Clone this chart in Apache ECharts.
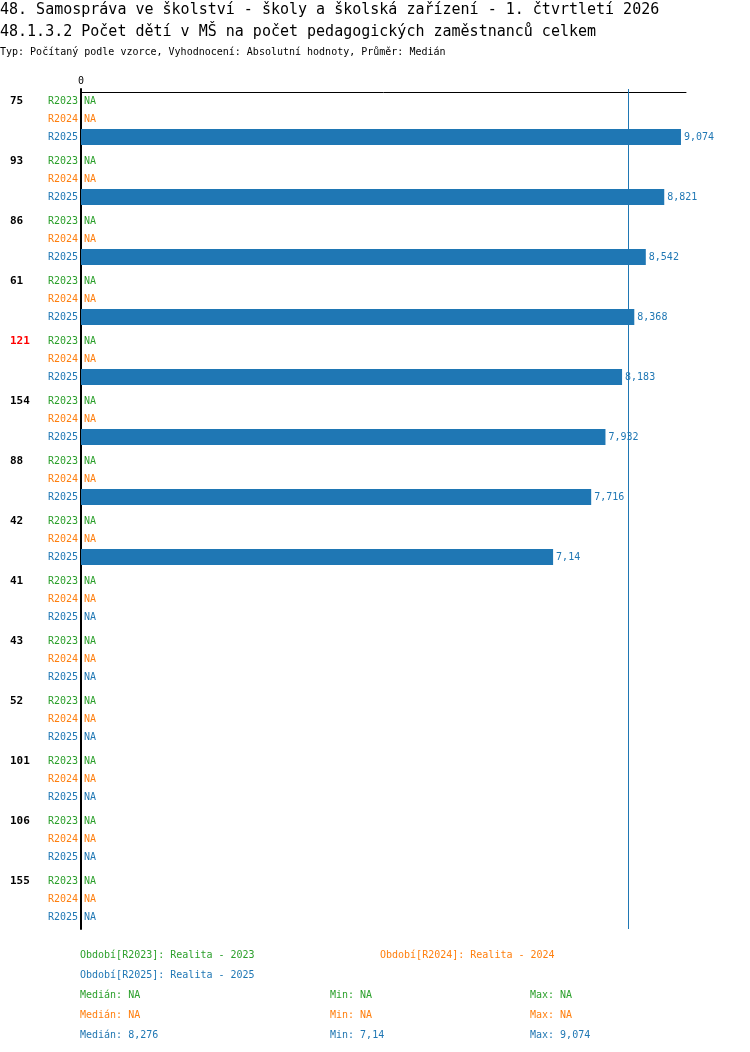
<!DOCTYPE html>
<html lang="cs">
<head>
    <meta charset="UTF-8">
    <title>48.1.3.2</title>
    <style>
        html, body { margin: 0; padding: 0; background: #fff; }
    </style>
</head>
<body>
<div id="container" style="width: 750px;height:1052px;"></div>

<script src="https://cdn.jsdelivr.net/npm/echarts@6/dist/echarts.min.js"></script>
<script type="text/javascript">

// kódy obcí (řádky grafu)
var groups = ['75', '93', '86', '61', '121', '154', '88', '42', '41', '43', '52', '101', '106', '155'];
// zvýrazněný kód
var highlight = '121';
// hodnoty jednotlivých období (null = NA)
var r2023 = [null, null, null, null, null, null, null, null, null, null, null, null, null, null];
var r2024 = [null, null, null, null, null, null, null, null, null, null, null, null, null, null];
var r2025 = [9.074, 8.821, 8.542, 8.368, 8.183, 7.932, 7.716, 7.14, null, null, null, null, null, null];
// souhrnné hodnoty období: medián, min, max
var stats2023 = [null, null, null];
var stats2024 = [null, null, null];
var stats2025 = [8.276, 7.14, 9.074];

var periods = ['R2023', 'R2024', 'R2025'];
var periodNames = ['Realita - 2023', 'Realita - 2024', 'Realita - 2025'];
var colors = ['#2ca02c', '#ff7f0e', '#1f77b4'];
var font = 'DejaVu Sans Mono';

function fmt(v) {
  if (v === null || v === undefined) return 'NA';
  return String(v).replace('.', ',');
}

function toData(arr) {
  return arr.map(function (v) {
    if (v === null) return { value: 0, label: { formatter: 'NA' } };
    return v;
  });
}

function makeSeries(arr, idx) {
  var s = {
    name: periods[idx],
    type: 'bar',
    yAxisIndex: 0,
    barWidth: 16,
    barGap: '12.5%',
    itemStyle: { color: colors[idx] },
    label: {
      show: true,
      position: 'right',
      distance: 3,
      color: colors[idx],
      fontFamily: font,
      fontSize: 10,
      formatter: function (p) { return fmt(p.value); }
    },
    data: toData(arr)
  };
  return s;
}

var series = [makeSeries(r2023, 0), makeSeries(r2024, 1), makeSeries(r2025, 2)];
// svislá čára mediánu R2025
series[2].markLine = {
  silent: true,
  symbol: 'none',
  label: { show: false },
  lineStyle: { color: '#1f77b4', width: 1, type: 'solid' },
  data: [{ xAxis: stats2025[0] }]
};

// texty legendy dole
var legendTexts = [];
function addText(x, y, txt, color) {
  legendTexts.push({
    type: 'text',
    left: x,
    top: y - 4,
    style: { text: txt, fill: color, font: '10px "' + font + '"' }
  });
}
addText(80, 954, 'Období[' + periods[0] + ']: ' + periodNames[0], colors[0]);
addText(380, 954, 'Období[' + periods[1] + ']: ' + periodNames[1], colors[1]);
addText(80, 974, 'Období[' + periods[2] + ']: ' + periodNames[2], colors[2]);
[stats2023, stats2024, stats2025].forEach(function (st, i) {
  var y = 994 + i * 20;
  addText(80, y, 'Medián: ' + fmt(st[0]), colors[i]);
  addText(330, y, 'Min: ' + fmt(st[1]), colors[i]);
  addText(530, y, 'Max: ' + fmt(st[2]), colors[i]);
});

var dom = document.getElementById('container');
var myChart = echarts.init(dom);
var option = {
  animation: false,
  title: [
    {
      text: '48. Samospráva ve školství - školy a školská zařízení - 1. čtvrtletí 2026',
      left: 0, top: 3, padding: 0,
      textStyle: { fontFamily: font, fontSize: 15, fontWeight: 'normal', color: '#000' }
    },
    {
      text: '48.1.3.2 Počet dětí v MŠ na počet pedagogických zaměstnanců celkem',
      left: 0, top: 25, padding: 0,
      textStyle: { fontFamily: font, fontSize: 15, fontWeight: 'normal', color: '#000' }
    },
    {
      text: 'Typ: Počítaný podle vzorce, Vyhodnocení: Absolutní hodnoty, Průměr: Medián',
      left: 0, top: 47, padding: 0,
      textStyle: { fontFamily: font, fontSize: 10, fontWeight: 'normal', color: '#000' }
    }
  ],
  grid: {
    left: 81,
    right: 64,
    top: 89,
    height: 840,
    containLabel: false
  },
  xAxis: {
    type: 'value',
    position: 'top',
    offset: -3,
    min: 0,
    max: 9.15,
    interval: 9.15,
    axisLine: { show: true, lineStyle: { color: '#000', width: 1 } },
    axisTick: { show: false },
    splitLine: { show: false },
    axisLabel: {
      margin: 6,
      fontFamily: font,
      fontSize: 10,
      color: '#000',
      formatter: function (v) { return v === 0 ? '0' : ''; }
    }
  },
  yAxis: [
    {
      type: 'category',
      inverse: true,
      data: groups,
      axisLine: { show: true, lineStyle: { color: '#000', width: 2 } },
      axisTick: { show: false },
      axisLabel: {
        margin: 3,
        align: 'right',
        formatter: function () {
          return '{a|' + periods[0] + '}\n{b|' + periods[1] + '}\n{c|' + periods[2] + '}';
        },
        rich: {
          a: { color: colors[0], fontFamily: font, fontSize: 10, lineHeight: 18 },
          b: { color: colors[1], fontFamily: font, fontSize: 10, lineHeight: 18 },
          c: { color: colors[2], fontFamily: font, fontSize: 10, lineHeight: 18 }
        }
      }
    },
    {
      type: 'category',
      inverse: true,
      position: 'left',
      data: groups,
      axisLine: { show: false },
      axisTick: { show: false },
      axisLabel: {
        margin: 71,
        align: 'left',
        formatter: function (v) {
          var k = v === highlight ? 'r' : 'k';
          return '{' + k + '|' + v + '}\n{e| }\n{e| }';
        },
        rich: {
          k: { color: '#000', fontFamily: font, fontSize: 11, fontWeight: 'bold', lineHeight: 18 },
          r: { color: '#ff0000', fontFamily: font, fontSize: 11, fontWeight: 'bold', lineHeight: 18 },
          e: { fontFamily: font, fontSize: 10, lineHeight: 18 }
        }
      }
    }
  ],
  series: series,
  graphic: legendTexts
};

myChart.setOption(option);
</script>
</body>
</html>
